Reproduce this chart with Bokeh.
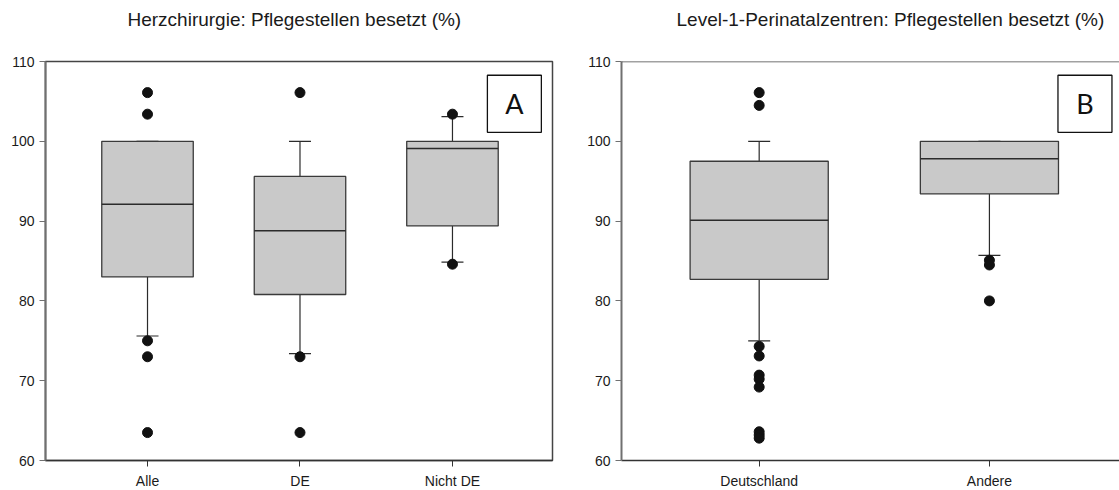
from bokeh.plotting import figure
from bokeh.layouts import row
from bokeh.models import (ColumnDataSource, Range1d, FixedTicker, Whisker, TeeHead,
                          BoxAnnotation, Label, Span, Title)
from bokeh.embed import file_html
from bokeh.resources import INLINE

# --- Herzchirurgie ---
heart_cats = ["Alle", "DE", "Nicht DE"]
heart_q1 = [83.0, 80.8, 89.4]
heart_median = [92.1, 88.8, 99.1]
heart_q3 = [100.0, 95.6, 100.0]
heart_lower = [75.6, 73.4, 84.85]
heart_upper = [100.0, 100.0, 103.1]
heart_outliers = {
    "Alle": [106.1, 103.4, 75.0, 73.0, 63.5],
    "DE": [106.1, 73.0, 63.5],
    "Nicht DE": [103.4, 84.6],
}

# --- Level-1-Perinatalzentren ---
peri_cats = ["Deutschland", "Andere"]
peri_q1 = [82.7, 93.4]
peri_median = [90.1, 97.8]
peri_q3 = [97.5, 100.0]
peri_lower = [75.0, 85.7]
peri_upper = [100.0, 100.0]
peri_outliers = {
    "Deutschland": [106.1, 104.5, 74.3, 73.1, 70.7, 70.2, 69.2, 63.6, 63.2, 62.8],
    "Andere": [85.1, 84.5, 80.0],
}

y_ticks = [60, 70, 80, 90, 100, 110]

FONT = "Liberation Sans"
BOX_FILL = "#c9c9c9"
DARK = "#2b2b2b"
BOX_W = 0.6
FRAME_H = 399
Y_MIN, Y_MAX = 60, 110


def box_panel(title, cats, q1, med, q3, lo, hi, outliers, x_range, frame_w,
              border_left, border_right, letter, letter_pos, right_frame,
              title_offset):
    pos = list(range(1, len(cats) + 1))
    p = figure(frame_width=frame_w, frame_height=FRAME_H,
               min_border_left=border_left, min_border_right=border_right,
               min_border_top=61, min_border_bottom=30,
               x_range=x_range, y_range=Range1d(Y_MIN, Y_MAX),
               title_location=None,
               output_backend="svg", toolbar_location=None,
               background_fill_color="white", border_fill_color="white")
    p.grid.visible = False

    # gap between frame and heading, then the heading itself
    p.add_layout(Title(text=" ", text_font_size="1px", standoff=24), "above")
    p.add_layout(Title(text=title, text_font=FONT, text_font_size="19px",
                       text_font_style="normal", text_color="#1a1a1a",
                       align="left", offset=title_offset, standoff=10,
                       vertical_align="bottom"), "above")

    src = ColumnDataSource(dict(
        x=pos, q1=q1, med=med, q3=q3, lo=lo, hi=hi,
        x0=[v - BOX_W / 2 for v in pos], x1=[v + BOX_W / 2 for v in pos]))

    # whiskers with tee caps, kept underneath the boxes
    w = Whisker(source=src, base="x", lower="lo", upper="hi",
                line_color=DARK, line_width=1.2,
                lower_head=TeeHead(size=22, line_color=DARK, line_width=1.2),
                upper_head=TeeHead(size=22, line_color=DARK, line_width=1.2),
                level="underlay")
    p.add_layout(w)

    p.vbar(x="x", width=BOX_W, bottom="q1", top="q3", source=src,
           fill_color=BOX_FILL, line_color="#3a3a3a", line_width=1.3)
    p.segment(x0="x0", x1="x1", y0="med", y1="med", source=src,
              line_color=DARK, line_width=1.5)

    ox, oy = [], []
    for i, c in enumerate(cats):
        for v in outliers[c]:
            ox.append(pos[i])
            oy.append(v)
    p.scatter(ox, oy, size=10, color="#111111")

    # axes
    p.xaxis.ticker = FixedTicker(ticks=pos)
    p.xaxis.major_label_overrides = {pos[i]: c for i, c in enumerate(cats)}
    p.yaxis.ticker = FixedTicker(ticks=y_ticks)
    for ax in (p.xaxis, p.yaxis):
        ax.minor_tick_line_color = None
        ax.major_tick_in = 0
        ax.major_tick_out = 6
        ax.major_label_text_font = FONT
        ax.major_label_text_font_size = "14px"
        ax.major_label_text_color = "#1a1a1a"
    p.yaxis.axis_line_color = "#707070"
    p.yaxis.axis_line_width = 2
    p.yaxis.major_tick_line_color = "#707070"
    p.xaxis.axis_line_color = "#333333"
    p.xaxis.axis_line_width = 1.5
    p.xaxis.major_tick_line_color = "#333333"
    p.xaxis.major_label_standoff = 6
    p.yaxis.major_label_standoff = 5

    if right_frame:
        p.outline_line_color = "#444444"
        p.outline_line_width = 1.5
    else:
        p.outline_line_color = None
        p.add_layout(Span(location=Y_MAX, dimension="width",
                          line_color="#444444", line_width=1.5))

    # panel letter in a framed box
    lx, ly, lw, lh = letter_pos
    p.add_layout(BoxAnnotation(left=lx - lw / 2, right=lx + lw / 2,
                               bottom=ly - lh / 2, top=ly + lh / 2,
                               fill_color="white", fill_alpha=1,
                               line_color="#111111", line_alpha=1,
                               line_width=1.3, level="overlay"))
    p.add_layout(Label(x=lx, y=ly, text=letter, text_font="Lato",
                       text_font_size="27px", text_color="#111111",
                       text_align="center", text_baseline="middle",
                       level="overlay"))
    return p


p1 = box_panel("Herzchirurgie: Pflegestellen besetzt (%)",
               heart_cats, heart_q1, heart_median, heart_q3, heart_lower, heart_upper,
               heart_outliers, Range1d(0.331, 3.656), 507, 45, 8,
               "A", (3.406, 104.7, 0.354, 7.15), True, 82)

p2 = box_panel("Level-1-Perinatalzentren: Pflegestellen besetzt (%)",
               peri_cats, peri_q1, peri_median, peri_q3, peri_lower, peri_upper,
               peri_outliers, Range1d(0.402, 2.565), 498, 61, 0,
               "B", (2.415, 104.7, 0.2345, 7.15), False, 55)

layout = row(p1, p2)
open("out.html", "w").write(file_html(layout, INLINE))
